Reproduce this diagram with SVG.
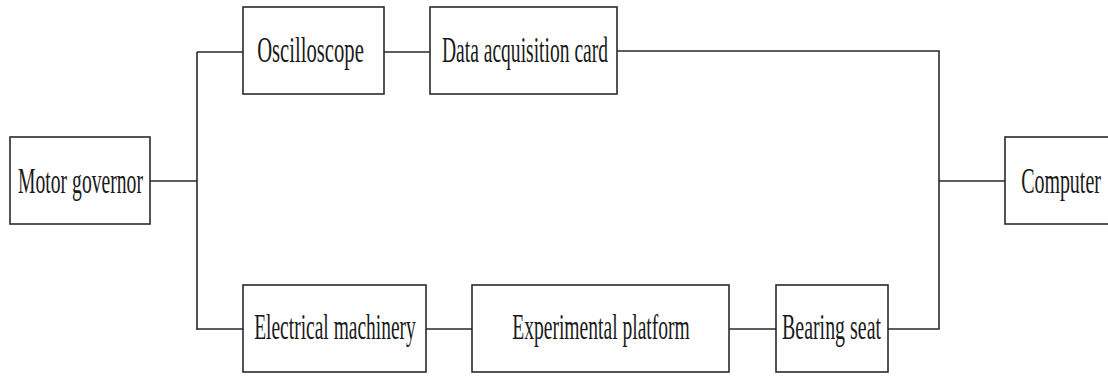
<svg xmlns="http://www.w3.org/2000/svg" width="1108" height="376" viewBox="0 0 1108 376">
<style>
.box{fill:#fff;stroke:#2a2a2a;stroke-width:1.6}
.lbl{font-family:"Liberation Serif","Times New Roman",serif;font-size:36px;fill:#1a1a1a;text-anchor:middle}
.wire{fill:none;stroke:#2a2a2a;stroke-width:1.6}
</style>
<rect width="1108" height="376" fill="#fff"/>
<g id="connectors">
<path class="wire" d="M150 181H197M197 52V330M197 52H243M197 329H243"/>
<path class="wire" d="M384 52H430M617 51H939V329H888"/>
<path class="wire" d="M939 181H1005"/>
<path class="wire" d="M426 329H472M729 329H776"/>
</g>
<g id="motor-governor"><rect class="box" x="10" y="137" width="140" height="87"/><text class="lbl" transform="translate(80.5 193) scale(0.55 1)" textLength="227" lengthAdjust="spacingAndGlyphs">Motor governor</text></g>
<g id="oscilloscope"><rect class="box" x="243" y="7" width="141" height="87"/><text class="lbl" transform="translate(310.5 62) scale(0.55 1)" textLength="194" lengthAdjust="spacingAndGlyphs">Oscilloscope</text></g>
<g id="data-acquisition-card"><rect class="box" x="430" y="7" width="187" height="87"/><text class="lbl" transform="translate(525 62) scale(0.55 1)" textLength="302" lengthAdjust="spacingAndGlyphs">Data acquisition card</text></g>
<g id="computer"><rect class="box" x="1005" y="137" width="120" height="87"/><text class="lbl" transform="translate(1061 193) scale(0.55 1)" textLength="145" lengthAdjust="spacingAndGlyphs">Computer</text></g>
<g id="electrical-machinery"><rect class="box" x="243" y="285" width="183" height="87"/><text class="lbl" transform="translate(335 339) scale(0.55 1)" textLength="294" lengthAdjust="spacingAndGlyphs">Electrical machinery</text></g>
<g id="experimental-platform"><rect class="box" x="472" y="285" width="257" height="87"/><text class="lbl" transform="translate(601 339) scale(0.55 1)" textLength="323" lengthAdjust="spacingAndGlyphs">Experimental platform</text></g>
<g id="bearing-seat"><rect class="box" x="776" y="285" width="112" height="87"/><text class="lbl" transform="translate(831.5 339) scale(0.55 1)" textLength="180" lengthAdjust="spacingAndGlyphs">Bearing seat</text></g>
</svg>
